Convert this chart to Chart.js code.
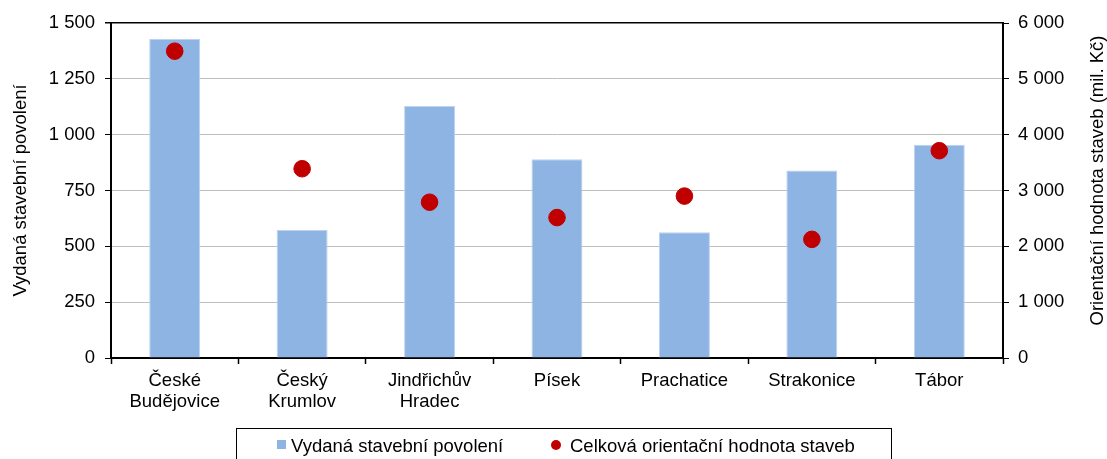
<!DOCTYPE html>
<html>
<head>
<meta charset="utf-8">
<script src="https://cdn.jsdelivr.net/npm/chart.js@4/dist/chart.umd.min.js"></script>
<style>
  body { margin: 0; background: #fff; overflow: hidden; }
  #wrap { position: relative; width: 1107px; height: 459px; }
  #legendBox {
    position: absolute; left: 236px; top: 428px; width: 656px; height: 40px;
    border: 1px solid #000; box-sizing: border-box;
    font-family: "Liberation Sans", Arial, sans-serif; font-size: 18.5px; color: #000;
  }
  .lg { position: absolute; top: 6px; white-space: nowrap; line-height: 22px; }
  .sq { position: absolute; top: 11px; width: 9px; height: 9px; background: #8EB4E3; }
  .dot { position: absolute; top: 11px; width: 10px; height: 10px; border-radius: 50%; background: #C00000; }
</style>
</head>
<body>
<div id="wrap">
  <canvas id="chart" width="1107" height="459"></canvas>
  <div id="legendBox">
    <div class="sq" style="left:40px"></div>
    <div class="lg" style="left:54px">Vydaná stavební povolení</div>
    <div class="dot" style="left:314px"></div>
    <div class="lg" style="left:333px">Celková orientační hodnota staveb</div>
  </div>
</div>
<script>
const districts = [
  ['České', 'Budějovice'], ['Český', 'Krumlov'], ['Jindřichův', 'Hradec'],
  'Písek', 'Prachatice', 'Strakonice', 'Tábor'
];
const permits = [1428, 573, 1128, 890, 563, 839, 955];       // Vydaná stavební povolení
const buildValue = [5495, 3390, 2790, 2515, 2900, 2125, 3713]; // mil. Kč

const leftTitle = 'Vydaná stavební povolení';
const rightTitle = 'Orientační hodnota staveb (mil. Kč)';

const FONT = '"Liberation Sans", Arial, sans-serif';
const FSIZE = 18.5;

function spaced(v) {
  return String(v).replace(/\B(?=(\d{3})+(?!\d))/g, ' ');
}

// right axis title reads bottom-to-top, so draw it by hand
const rightTitlePlugin = {
  id: 'rightTitle',
  afterDraw(chart) {
    const c = chart.ctx;
    const area = chart.chartArea;
    c.save();
    c.translate(1098, (area.top + area.bottom) / 2 - 10);
    c.rotate(-Math.PI / 2);
    c.font = FSIZE + 'px ' + FONT;
    c.fillStyle = '#000';
    c.textAlign = 'center';
    c.textBaseline = 'middle';
    c.fillText(rightTitle, 0, 0);
    c.restore();
  }
};

const ctx = document.getElementById('chart').getContext('2d');
new Chart(ctx, {
  data: {
    labels: districts,
    datasets: [{
      type: 'line',
      label: 'Celková orientační hodnota staveb',
      data: buildValue,
      yAxisID: 'y1',
      showLine: false,
      pointRadius: 8.3,
      pointHoverRadius: 8.3,
      pointBackgroundColor: '#C00000',
      pointBorderColor: '#C00000',
      order: 0
    }, {
      type: 'bar',
      label: 'Vydaná stavební povolení',
      data: permits,
      yAxisID: 'y',
      backgroundColor: '#8EB4E3',
      borderColor: '#BCD2EE',
      borderWidth: 1,
      barPercentage: 0.4,
      categoryPercentage: 1,
      order: 1
    }]
  },
  options: {
    responsive: false,
    animation: false,
    layout: { padding: { top: 23, left: 0, right: 0, bottom: 0 } },
    plugins: {
      legend: { display: false },
      tooltip: { enabled: false }
    },
    scales: {
      x: {
        afterFit: (s) => { s.height = 101; },
        grid: {
          drawOnChartArea: false,
          drawTicks: true,
          tickLength: 6,
          tickColor: '#000',
          tickWidth: 1.5
        },
        border: { color: '#000', width: 2 },
        ticks: {
          color: '#000',
          padding: 6,
          maxRotation: 0,
          autoSkip: false,
          font: { family: FONT, size: FSIZE, lineHeight: 1.14 }
        }
      },
      y: {
        position: 'left',
        min: 0,
        max: 1500,
        afterFit: (s) => { s.width = 111; },
        grid: {
          color: (c) => c.tick && c.tick.value === 1500 ? '#000' : '#BFBFBF',
          lineWidth: (c) => c.tick && c.tick.value === 1500 ? 1.5 : 1,
          tickLength: 6,
          tickColor: '#000'
        },
        border: { color: '#000', width: 2 },
        ticks: {
          stepSize: 250,
          color: '#000',
          padding: 10,
          font: { family: FONT, size: FSIZE },
          callback: (v) => spaced(v)
        },
        title: {
          display: true,
          text: leftTitle,
          color: '#000',
          padding: { top: 10, bottom: 0 },
          font: { family: FONT, size: FSIZE }
        }
      },
      y1: {
        position: 'right',
        min: 0,
        max: 6000,
        afterFit: (s) => { s.width = 104; },
        grid: {
          drawOnChartArea: false,
          tickLength: 6,
          tickColor: '#000'
        },
        border: { color: '#000', width: 2 },
        ticks: {
          stepSize: 1000,
          color: '#000',
          padding: 9,
          font: { family: FONT, size: FSIZE },
          callback: (v) => spaced(v)
        }
      }
    }
  },
  plugins: [rightTitlePlugin]
});
</script>
</body>
</html>
